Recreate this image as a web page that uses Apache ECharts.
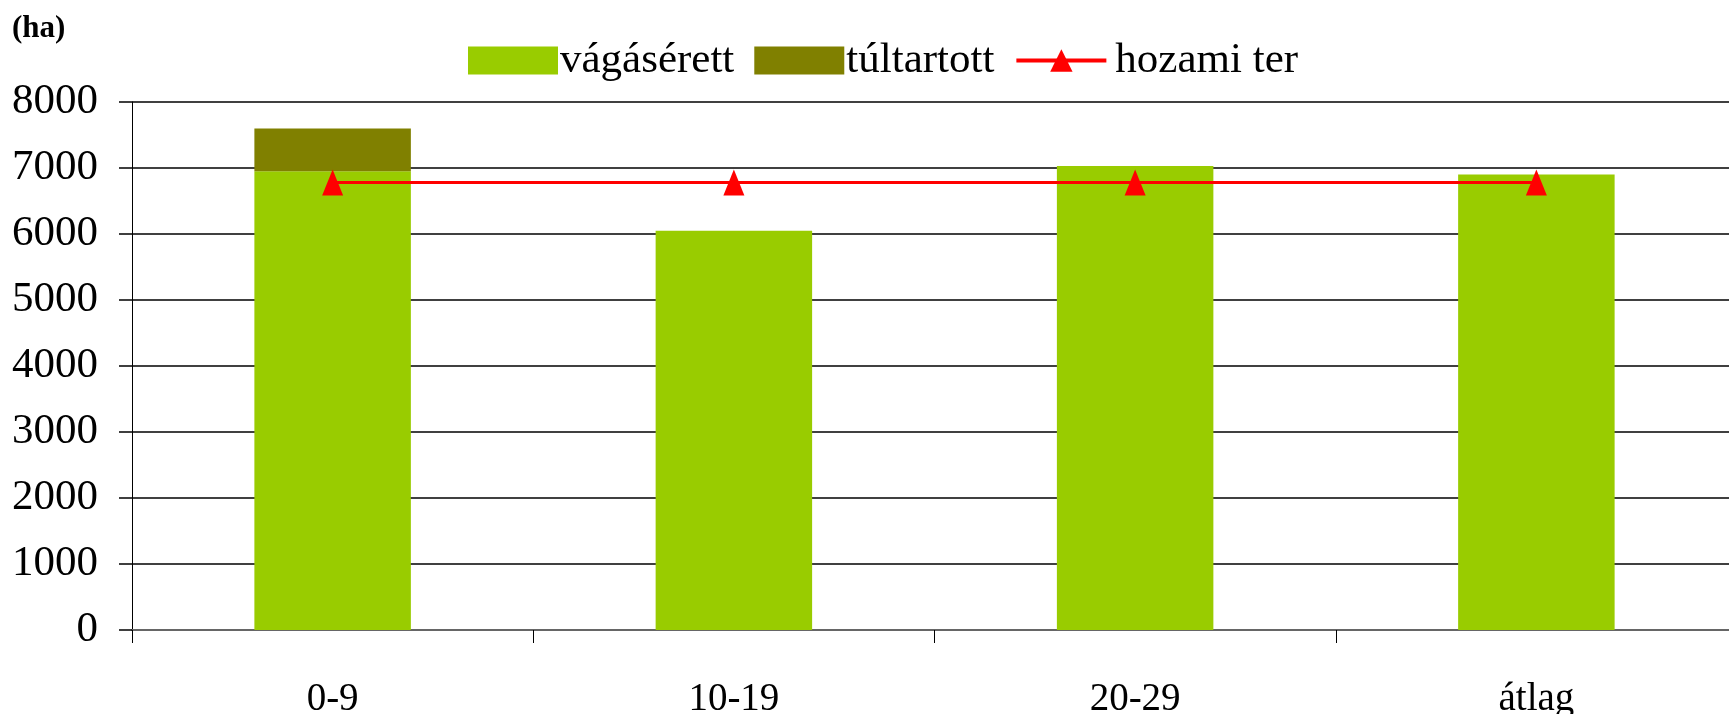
<!DOCTYPE html>
<html lang="hu">
<head>
    <meta charset="utf-8">
    <script src="https://cdn.jsdelivr.net/npm/echarts@6/dist/echarts.min.js"></script>
    <title>vágásérett</title>
    <style>
        html, body { margin: 0; height: 100%; background: #fff; }
        #container { width: 1729px; height: 714px; }
    </style>
</head>
<body>
<div id="container"></div>
<script type="text/javascript">
    // adatok
    const categories = ['0-9', '10-19', '20-29', 'átlag'];
    const vagaserett = [6950, 6050, 7030, 6900];
    const tultartott = [650, 0, 0, 0];
    const hozamiTer = [6780, 6780, 6780, 6780];
    const yTicks = [0, 1000, 2000, 3000, 4000, 5000, 6000, 7000, 8000];

    const font = 'Liberation Serif, Times New Roman, serif';
    const myChart = echarts.init(document.getElementById('container'), null, {renderer: 'canvas'});

    myChart.setOption({
        animation: false,
        textStyle: {fontFamily: font, color: '#000'},
        title: {
            text: '(ha)',
            left: 7,
            top: 8,
            textStyle: {fontFamily: font, fontWeight: 'bold', fontSize: 31, color: '#000'}
        },
        legend: {
            top: 34,
            left: 463,
            itemWidth: 90,
            itemHeight: 28,
            itemGap: 20,
            textStyle: {fontFamily: font, fontSize: 43, color: '#000', padding: [0, 0, 0, -3]},
            data: [
                {name: 'vágásérett', icon: 'rect'},
                {name: 'túltartott', icon: 'rect'},
                {name: 'hozami ter', lineStyle: {width: 4}, textStyle: {padding: [0, 0, 0, 4]}}
            ]
        },
        grid: {
            left: 132,
            right: -8,
            top: 102,
            bottom: 84,
            outerBoundsMode: 'none'
        },
        xAxis: {
            type: 'category',
            data: categories,
            axisLine: {lineStyle: {color: '#666', width: 2}},
            axisTick: {show: true, length: 13, lineStyle: {color: '#000', width: 1}},
            axisLabel: {fontFamily: font, fontSize: 39, color: '#000', margin: 50}
        },
        yAxis: {
            type: 'value',
            min: yTicks[0],
            max: yTicks[yTicks.length - 1],
            interval: 1000,
            axisLine: {show: true, lineStyle: {color: '#000', width: 1}},
            axisTick: {show: true, length: 13, lineStyle: {color: '#000', width: 1.5}},
            axisLabel: {
                fontFamily: font, fontSize: 43, color: '#000', margin: 34,
                formatter: function (v) { return String(v); }
            },
            splitLine: {lineStyle: {color: '#000', width: 1.5}}
        },
        series: [
            {
                name: 'vágásérett',
                type: 'bar',
                stack: 'ter',
                barWidth: '39%',
                itemStyle: {color: '#99cc00'},
                data: vagaserett
            },
            {
                name: 'túltartott',
                type: 'bar',
                stack: 'ter',
                barWidth: '39%',
                itemStyle: {color: '#808000'},
                data: tultartott
            },
            {
                name: 'hozami ter',
                type: 'line',
                z: 5,
                symbol: 'triangle',
                symbolSize: [21, 26],
                lineStyle: {color: '#ff0000', width: 3},
                itemStyle: {color: '#ff0000'},
                data: hozamiTer
            }
        ]
    });

    window.onresize = function () {
        myChart.resize();
    };
</script>
</body>
</html>
